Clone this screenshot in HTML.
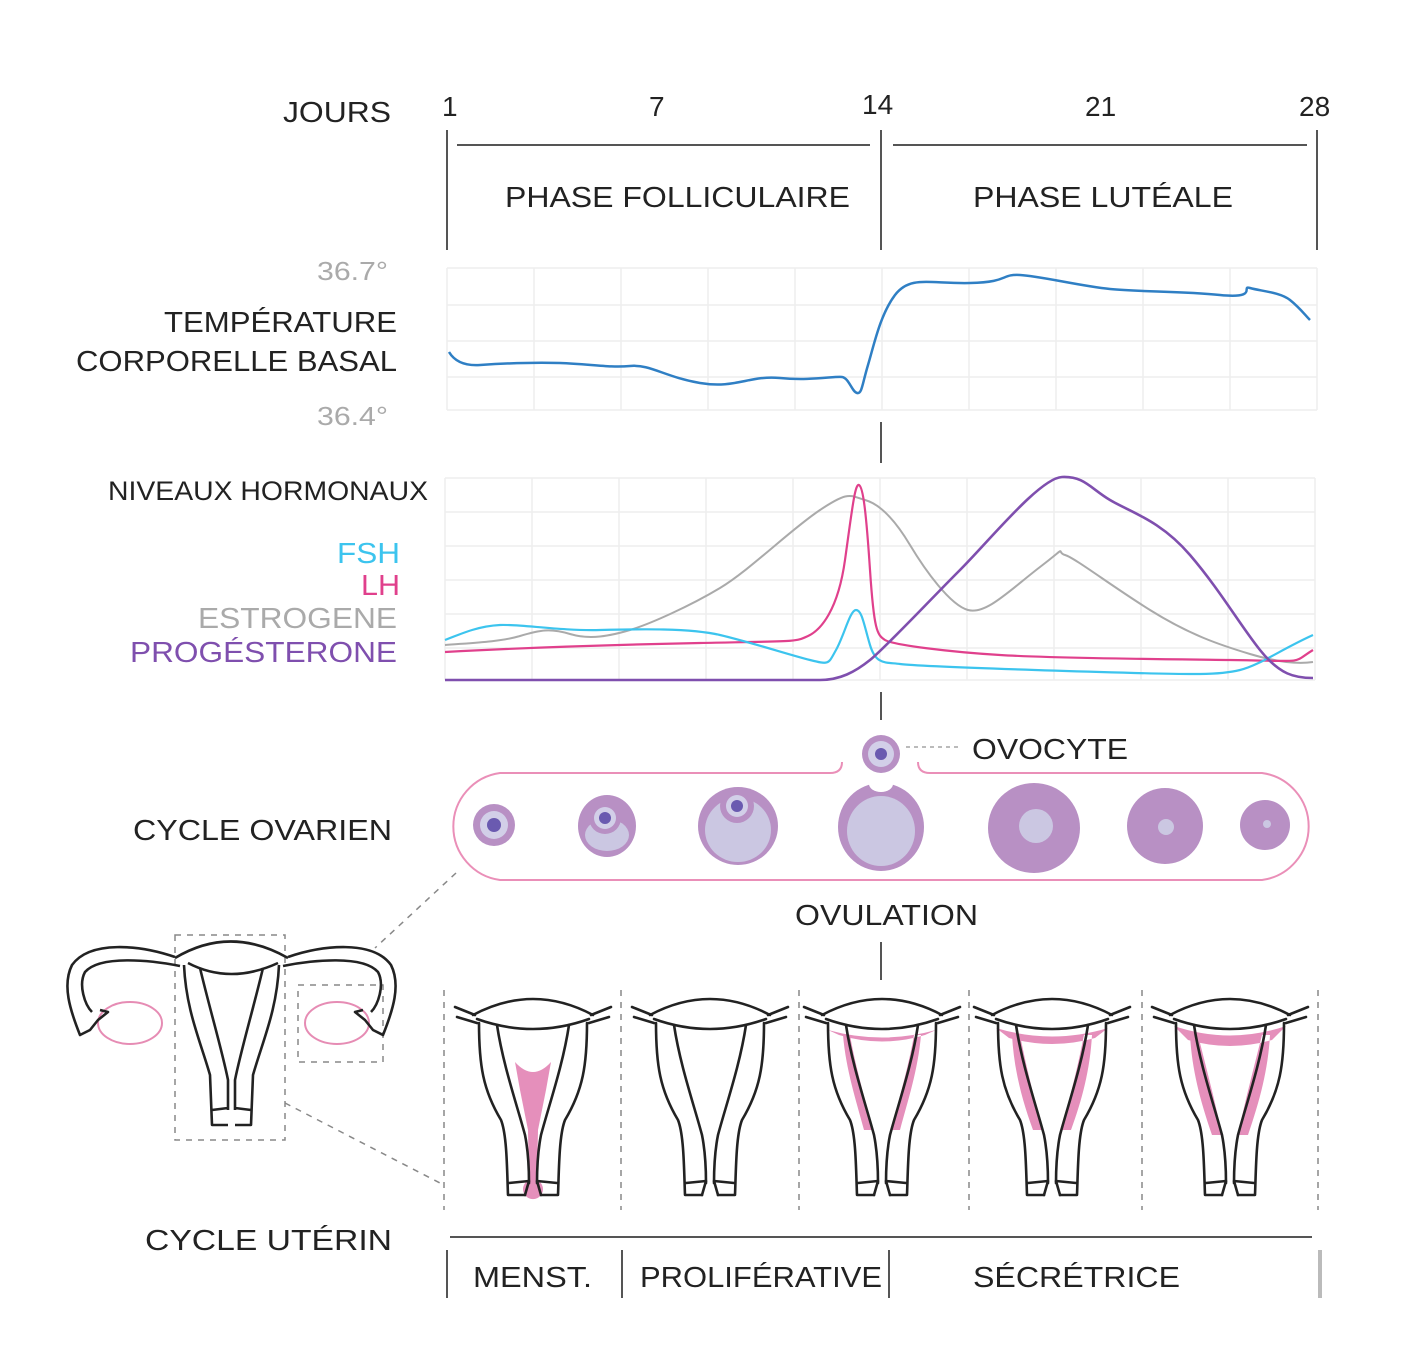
<!DOCTYPE html>
<html><head><meta charset="utf-8"><style>
html,body{margin:0;padding:0;background:#fff}
svg{display:block}
text{font-family:"Liberation Sans",sans-serif}
</style></head><body>
<svg width="1414" height="1358" viewBox="0 0 1414 1358" xmlns="http://www.w3.org/2000/svg">
<defs>
<g id="ut" fill="none" stroke="#222" stroke-width="2.6" stroke-linejoin="round" stroke-linecap="round">
  <path d="M-78,12 L-58,20 M-76,22 L-56,28 M78,12 L58,20 M76,22 L56,28"/>
  <path d="M-60,20 Q0,-12 60,20"/>
  <path d="M-56,24 Q0,44 56,24"/>
  <path d="M-54,28 C-54,70 -50,95 -32,125 C-26,140 -26,175 -25,200 L-8,200"/>
  <path d="M54,28 C54,70 50,95 32,125 C26,140 26,175 25,200 L8,200"/>
  <path d="M-36,30 C-30,70 -16,110 -8,140 C-4,160 -4,180 -4,188"/>
  <path d="M36,30 C30,70 16,110 8,140 C4,160 4,180 4,188"/>
  <path d="M-24,188 L-4,186 L-8,200 M24,188 L4,186 L8,200"/>
</g>
</defs>
<g fill="#222" font-size="29" lengthAdjust="spacingAndGlyphs">
<text x="283" y="122" textLength="108" lengthAdjust="spacingAndGlyphs">JOURS</text>
<text x="442" y="116" font-size="28">1</text>
<text x="649" y="116" font-size="28">7</text>
<text x="862" y="114" font-size="28">14</text>
<text x="1085" y="116" font-size="28">21</text>
<text x="1299" y="116" font-size="28">28</text>
<text x="505" y="207" textLength="345" lengthAdjust="spacingAndGlyphs">PHASE FOLLICULAIRE</text>
<text x="973" y="207" textLength="260" lengthAdjust="spacingAndGlyphs">PHASE LUTÉALE</text>
<text x="164" y="332" textLength="233" lengthAdjust="spacingAndGlyphs">TEMPÉRATURE</text>
<text x="76" y="371" textLength="321" lengthAdjust="spacingAndGlyphs">CORPORELLE BASAL</text>
<text x="108" y="500" font-size="27" textLength="320" lengthAdjust="spacingAndGlyphs">NIVEAUX HORMONAUX</text>
<text x="337" y="563" fill="#3cc4ee" textLength="63" lengthAdjust="spacingAndGlyphs">FSH</text>
<text x="361" y="595" fill="#e0408c" textLength="39" lengthAdjust="spacingAndGlyphs">LH</text>
<text x="198" y="628" fill="#aaa" textLength="199" lengthAdjust="spacingAndGlyphs">ESTROGENE</text>
<text x="130" y="662" fill="#7f4fae" textLength="267" lengthAdjust="spacingAndGlyphs">PROGÉSTERONE</text>
<text x="133" y="840" textLength="259" lengthAdjust="spacingAndGlyphs">CYCLE OVARIEN</text>
<text x="972" y="759" textLength="156" lengthAdjust="spacingAndGlyphs">OVOCYTE</text>
<text x="795" y="925" textLength="183" lengthAdjust="spacingAndGlyphs">OVULATION</text>
<text x="145" y="1250" textLength="247" lengthAdjust="spacingAndGlyphs">CYCLE UTÉRIN</text>
<text x="473" y="1287" textLength="119" lengthAdjust="spacingAndGlyphs">MENST.</text>
<text x="640" y="1287" textLength="242" lengthAdjust="spacingAndGlyphs">PROLIFÉRATIVE</text>
<text x="973" y="1287" textLength="207" lengthAdjust="spacingAndGlyphs">SÉCRÉTRICE</text>
</g>
<g fill="#aaa" font-size="26"><text x="317" y="280" textLength="71" lengthAdjust="spacingAndGlyphs">36.7°</text><text x="317" y="425" textLength="71" lengthAdjust="spacingAndGlyphs">36.4°</text></g>
<g stroke="#555" stroke-width="2" fill="none">
<path d="M447,130V250M881,130V250M1317,130V250M457,145H870M893,145H1307"/>
<path d="M881,422V463M881,692V720M881,942V980"/>
<path d="M450,1237H1312M447,1250V1298M622,1250V1298M889,1250V1298"/>
</g>
<path d="M1320,1250V1298" stroke="#bbb" stroke-width="4"/>
<g stroke="#eee" stroke-width="1.5" fill="none">
<path d="M447,268H1317M447,305H1317M447,341H1317M447,377H1317M447,410H1317"/>
<path d="M447,268V410M534,268V410M621,268V410M708,268V410M795,268V410M882,268V410M969,268V410M1056,268V410M1143,268V410M1230,268V410M1317,268V410"/>
<path d="M445,478H1315M445,512H1315M445,546H1315M445,580H1315M445,614H1315M445,648H1315M445,680H1315"/>
<path d="M445,478V680M532,478V680M619,478V680M706,478V680M793,478V680M880,478V680M967,478V680M1054,478V680M1141,478V680M1228,478V680M1315,478V680"/>
</g>
<path fill="none" stroke="#2f7fc4" stroke-width="2.5" d="M449,352 C455,362 465,366 480,365 S530,362 560,363 S610,368 630,366 S665,377 700,383 S750,375 780,378 S835,376 842,377 S852,392 857,393 S862,385 868,365 S880,315 895,295 S930,284 970,283 S1000,274 1020,275 S1080,286 1110,289 S1180,291 1220,295 S1240,285 1250,288 S1280,292 1290,300 S1305,315 1310,320"/>
<path fill="none" stroke="#aaa" stroke-width="2" d="M445,645 C470,643 500,642 520,636 S550,628 570,634 S610,636 630,630 S690,606 720,588 S790,530 820,510 S850,496 865,500 S895,520 910,545 S950,605 968,610 S1010,590 1040,567 S1055,552 1065,555 S1110,585 1150,610 S1220,645 1250,654 S1300,664 1313,662"/>
<path fill="none" stroke="#e0408c" stroke-width="2.2" d="M445,652 C500,649 600,645 700,643 S795,642 808,636 S838,610 845,560 S855,483 859,485 S866,510 870,570 S877,635 885,640 S950,652 1000,655 S1150,659 1230,660 S1290,664 1313,650"/>
<path fill="none" stroke="#3cc4ee" stroke-width="2.2" d="M445,640 C465,632 480,626 500,625 S560,631 600,630 S690,628 720,635 S790,655 810,660 S828,664 836,650 S850,610 856,610 S864,625 870,645 S885,662 900,664 S1000,669 1100,672 S1220,675 1240,670 S1280,650 1313,635"/>
<path fill="none" stroke="#7f4fae" stroke-width="2.6" d="M445,680 L820,680 C840,680 855,672 870,660 S930,600 960,570 S1040,478 1062,477 S1090,488 1110,500 S1160,520 1190,555 S1240,625 1260,650 S1295,678 1313,678"/>
<path fill="none" stroke="#ea8fb8" stroke-width="2" d="M830,773 H500 A54,54 0 0 0 500,880 H1262 A54,54 0 0 0 1262,773 H930 Q918,773 918,762 M830,773 Q842,773 842,762"/>
<path d="M906,747 H962" stroke="#bbb" stroke-width="2" stroke-dasharray="4,4"/>
<circle cx="881" cy="754" r="19" fill="#b890c4"/><circle cx="881" cy="754" r="13" fill="#d2cfe8"/><circle cx="881" cy="754" r="6" fill="#6a5ab0"/>
<circle cx="494" cy="825" r="21" fill="#b890c4"/><circle cx="494" cy="825" r="14" fill="#d2cfe8"/><circle cx="494" cy="825" r="7" fill="#6a5ab0"/>
<ellipse cx="607" cy="826" rx="29" ry="31" fill="#b890c4"/><ellipse cx="607" cy="835" rx="22" ry="16" fill="#cbc7e2"/><circle cx="605" cy="818" r="16" fill="#b890c4"/><circle cx="605" cy="818" r="11" fill="#d2cfe8"/><circle cx="605" cy="818" r="6" fill="#6a5ab0"/>
<ellipse cx="738" cy="826" rx="40" ry="39" fill="#b890c4"/><ellipse cx="738" cy="830" rx="33" ry="32" fill="#cbc7e2"/><circle cx="737" cy="806" r="17" fill="#b890c4"/><circle cx="737" cy="806" r="11" fill="#d2cfe8"/><circle cx="737" cy="806" r="6" fill="#6a5ab0"/>
<ellipse cx="881" cy="827" rx="43" ry="44" fill="#b890c4"/><ellipse cx="881" cy="831" rx="34" ry="35" fill="#cbc7e2"/><ellipse cx="881" cy="784" rx="12" ry="8" fill="#fff"/>
<ellipse cx="1034" cy="828" rx="46" ry="45" fill="#b890c4"/><ellipse cx="1036" cy="826" rx="17" ry="17" fill="#cbc7e2"/>
<ellipse cx="1165" cy="826" rx="38" ry="38" fill="#b890c4"/><circle cx="1166" cy="827" r="8" fill="#cbc7e2"/>
<circle cx="1265" cy="825" r="25" fill="#b890c4"/><circle cx="1267" cy="824" r="4" fill="#cbc7e2"/>
<g stroke="#888" stroke-width="1.5" stroke-dasharray="6,6" fill="none">
<path d="M444,990V1210M621,990V1210M799,990V1210M969,990V1210M1142,990V1210M1318,990V1210"/>
<path d="M456,873 L375,948 M285,1103 L440,1183"/>
<rect x="175" y="935" width="110" height="205"/>
<rect x="298" y="985" width="85" height="77"/>
</g>
<g fill="none" stroke="#222" stroke-width="2.6" stroke-linejoin="round">
<ellipse cx="130" cy="1023" rx="32" ry="21" stroke="#e68cb4" stroke-width="2"/>
<ellipse cx="337" cy="1023" rx="32" ry="21" stroke="#e68cb4" stroke-width="2"/>
<path d="M175,957 C140,945 90,940 72,965 C62,985 70,1010 80,1035 L90,1030 L98,1020 L108,1012 L100,1010 M180,966 C150,960 100,955 85,972 C78,985 85,1005 92,1012"/>
<path d="M288,957 C323,945 373,940 391,965 C401,985 393,1010 383,1035 L373,1030 L365,1020 L355,1012 L363,1010 M283,966 C313,960 363,955 378,972 C385,985 378,1005 371,1012"/>
<path d="M175,958 Q230,925 288,958 M188,963 Q230,985 278,963"/>
<path d="M184,965 C186,1010 200,1040 210,1075 L212,1125 L228,1125 M279,965 C277,1010 263,1040 253,1075 L251,1125 L235,1125 M200,968 C210,1010 222,1050 228,1080 L228,1110 M263,968 C253,1010 241,1050 235,1080 L235,1110 M212,1110 L228,1108 M251,1110 L235,1108"/>
</g>
<path fill="#e58fbb" d="M515,1062 Q533,1082 551,1062 L546,1090 L538,1130 L537,1180 A10,10 0 1 1 529,1180 L528,1130 L520,1090 Z"/>
<use href="#ut" x="533" y="995"/>
<use href="#ut" x="710" y="995"/>
<path fill="#e58fbb" d="M828,1030 Q882,1045 936,1030 L925,1035 Q882,1048 839,1035 Z M850,1035 C856,1070 866,1100 872,1130 L864,1130 C856,1100 846,1070 843,1035 Z M914,1035 C908,1070 898,1100 892,1130 L900,1130 C908,1100 918,1070 921,1035 Z"/>
<use href="#ut" x="882" y="995"/>
<path fill="#e58fbb" d="M996,1028 Q1052,1045 1108,1028 L1095,1038 Q1052,1050 1009,1038 Z M1020,1035 C1028,1075 1036,1105 1043,1130 L1033,1130 C1022,1100 1014,1070 1012,1035 Z M1084,1035 C1076,1075 1068,1105 1061,1130 L1071,1130 C1082,1100 1090,1070 1092,1035 Z"/>
<use href="#ut" x="1052" y="995"/>
<path fill="#e58fbb" d="M1174,1026 Q1230,1045 1286,1026 L1272,1040 Q1230,1052 1188,1040 Z M1198,1035 C1208,1075 1216,1105 1222,1135 L1212,1135 C1200,1100 1192,1070 1190,1035 Z M1262,1035 C1252,1075 1244,1105 1238,1135 L1248,1135 C1260,1100 1268,1070 1270,1035 Z"/>
<use href="#ut" x="1230" y="995"/>
</svg>
</body></html>
